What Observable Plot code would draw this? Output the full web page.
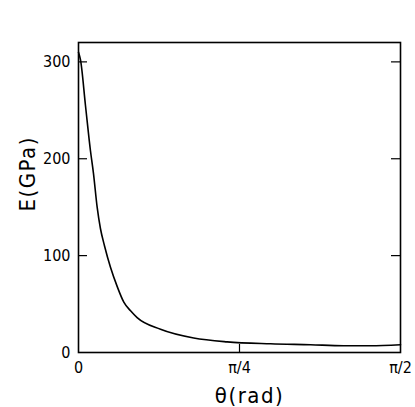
<!DOCTYPE html>
<html><head><meta charset="utf-8">
<script src="https://cdn.jsdelivr.net/npm/d3@7"></script>
<script src="https://cdn.jsdelivr.net/npm/@observablehq/plot@0.6"></script>
<style>
body{margin:0;background:#fff}
.ylab text{letter-spacing:1.5px}
.xlab text{letter-spacing:1.5px}
</style>
</head><body><div id="chart"></div>
<script>
const theta   = [0, 0.0098, 0.034, 0.0585, 0.073, 0.091, 0.107, 0.127, 0.156, 0.189, 0.221, 0.254, 0.286, 0.400, 0.562, 0.725, 0.937, 1.132, 1.293, 1.424, 1.571];
const modulus = [310, 302, 255, 208, 185, 150, 128, 110, 88, 68, 52, 43, 36, 24, 15, 11, 9, 8, 7, 7, 8];
const yTicks = [0, 100, 200, 300];
const xTicks = [0, Math.PI / 4, Math.PI / 2];
const xTickLabels = ["0", "π/4", "π/2"];
const data = theta.map((t, i) => ({t, e: modulus[i]}));
const font = '"DejaVu Sans Condensed", "Liberation Sans Narrow", sans-serif';
const chart = Plot.plot({
  width: 415, height: 407,
  marginLeft: 78, marginRight: 15, marginTop: 42, marginBottom: 55,
  style: {fontFamily: font, fontSize: "16px", background: "white", color: "black"},
  x: {domain: [0, Math.PI / 2]},
  y: {domain: [0, 320]},
  marks: [
    Plot.axisY(yTicks, {tickSize: 0, tickPadding: 8, label: null, fontSize: 16}),
    Plot.axisX(xTicks, {tickSize: 0, tickPadding: 9, label: null, fontSize: 16,
      tickFormat: d => xTickLabels[xTicks.indexOf(d)]}),
    Plot.tickY(yTicks.filter(d => d > 0), {y: d => d, insetRight: 313, strokeWidth: 1.2}),
    Plot.tickY(yTicks.filter(d => d > 0), {y: d => d, insetLeft: 313, strokeWidth: 1.2}),
    Plot.tickX([Math.PI / 4], {x: d => d, insetTop: 302, strokeWidth: 1.2}),
    Plot.line(data, {x: "t", y: "e", strokeWidth: 1.6, curve: "monotone-x"}),
    Plot.frame({strokeWidth: 1.6}),
    Plot.text(["E(GPa)"], {frameAnchor: "left", rotate: -90, dx: -51, dy: 14, fontSize: 22, className: "ylab"}),
    Plot.text(["θ(rad)"], {frameAnchor: "bottom", dx: 10, dy: 50, fontSize: 22, className: "xlab"})
  ]
});
document.getElementById("chart").appendChild(chart);
</script>
</body></html>
